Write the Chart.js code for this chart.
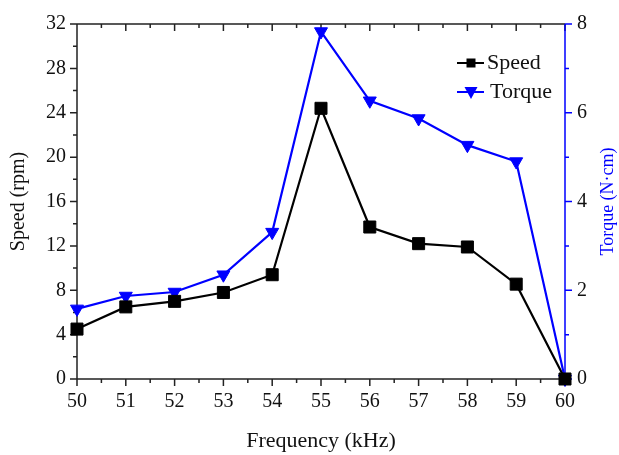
<!DOCTYPE html>
<html>
<head>
<meta charset="utf-8">
<script src="https://cdn.jsdelivr.net/npm/chart.js@4.4.1/dist/chart.umd.min.js"></script>
<style>
  body { margin: 0; background: #fff; }
  canvas { display: block; }
</style>
</head>
<body>
<canvas id="chart" width="619" height="455"></canvas>
<script>
// Values
const frequency = [50, 51, 52, 53, 54, 55, 56, 57, 58, 59, 60];
const speed = [4.5, 6.5, 7.0, 7.8, 9.4, 24.4, 13.7, 12.2, 11.9, 8.55, 0];
const torque = [1.58, 1.87, 1.96, 2.35, 3.31, 7.83, 6.27, 5.87, 5.27, 4.9, 0];
const seriesNames = ['Speed', 'Torque'];
const axisTitles = ['Frequency (kHz)', 'Speed (rpm)', 'Torque (N\u00b7cm)'];

const FONT = "'Liberation Serif', 'Times New Roman', serif";
const BLUE = '#0000ff';

// axis lines + major/minor tick marks, drawn from the scales
const axesPlugin = {
  id: 'axes',
  beforeDatasetsDraw(chart) {
    const { ctx, chartArea: a, scales } = chart;
    const x = scales.x, y = scales.y, y1 = scales.y1;
    ctx.save();
    ctx.lineWidth = 1.5;
    ctx.strokeStyle = '#222';
    ctx.beginPath();
    ctx.moveTo(a.left, a.top); ctx.lineTo(a.left, a.bottom); ctx.lineTo(a.right, a.bottom);
    ctx.moveTo(a.left, a.top); ctx.lineTo(a.right, a.top);
    for (let v = x.min; v <= x.max + 1e-9; v += 0.5) {
      const px = x.getPixelForValue(v);
      const len = Number.isInteger(v) ? 7 : 4;
      ctx.moveTo(px, a.bottom); ctx.lineTo(px, a.bottom + len);
      ctx.moveTo(px, a.top); ctx.lineTo(px, a.top + len);
    }
    for (let v = y.min; v <= y.max + 1e-9; v += 2) {
      const py = y.getPixelForValue(v);
      const len = v % 4 === 0 ? 7 : 4;
      ctx.moveTo(a.left, py); ctx.lineTo(a.left - len, py);
    }
    ctx.stroke();

    ctx.strokeStyle = BLUE;
    ctx.beginPath();
    ctx.moveTo(a.right, a.top); ctx.lineTo(a.right, a.bottom);
    for (let v = y1.min; v <= y1.max + 1e-9; v += 1) {
      const py = y1.getPixelForValue(v);
      const len = v % 2 === 0 ? 7 : 4;
      ctx.moveTo(a.right, py); ctx.lineTo(a.right + len, py);
    }
    ctx.stroke();
    ctx.restore();
  }
};

// legend in the upper right corner + right axis title (reads bottom to top)
const legendPlugin = {
  id: 'cornerLegend',
  afterDraw(chart) {
    const { ctx, chartArea: a } = chart;
    const x0 = a.right - 108;
    ctx.save();
    ctx.font = '22px ' + FONT;
    ctx.textBaseline = 'middle';
    chart.data.datasets.forEach((ds, i) => {
      const yy = a.top + 39 + i * 29;
      ctx.strokeStyle = ds.borderColor;
      ctx.lineWidth = 2;
      ctx.beginPath();
      ctx.moveTo(x0, yy); ctx.lineTo(x0 + 27, yy);
      ctx.stroke();
      ctx.fillStyle = ds.backgroundColor;
      ctx.beginPath();
      if (ds.pointStyle === 'rect') {
        ctx.rect(x0 + 9.5, yy - 4.5, 9, 9);
      } else {
        ctx.moveTo(x0 + 7.5, yy - 5);
        ctx.lineTo(x0 + 20.5, yy - 5);
        ctx.lineTo(x0 + 14, yy + 7);
        ctx.closePath();
      }
      ctx.fill();
      ctx.fillStyle = '#111';
      ctx.fillText(ds.label, x0 + 30 + i * 3, yy);
    });

    ctx.translate(608, (a.top + a.bottom) / 2);
    ctx.rotate(-Math.PI / 2);
    ctx.font = '18px ' + FONT;
    ctx.textAlign = 'center';
    ctx.fillStyle = BLUE;
    ctx.fillText(axisTitles[2], 0, 0);
    ctx.restore();
  }
};

new Chart(document.getElementById('chart'), {
  type: 'line',
  data: {
    datasets: [
      {
        label: seriesNames[0],
        data: frequency.map((f, i) => ({ x: f, y: speed[i] })),
        yAxisID: 'y',
        borderColor: '#000',
        backgroundColor: '#000',
        borderWidth: 2.2,
        pointStyle: 'rect',
        pointRadius: 8.5,
        pointBorderWidth: 1,
        tension: 0,
        clip: false
      },
      {
        label: seriesNames[1],
        data: frequency.map((f, i) => ({ x: f, y: torque[i] })),
        yAxisID: 'y1',
        borderColor: BLUE,
        backgroundColor: BLUE,
        borderWidth: 2.2,
        pointStyle: 'triangle',
        rotation: 180,
        pointRadius: 7.5,
        pointBorderWidth: 1,
        tension: 0,
        clip: false
      }
    ]
  },
  options: {
    responsive: false,
    animation: false,
    layout: { padding: { top: 19 } },
    plugins: { legend: { display: false }, tooltip: { enabled: false } },
    scales: {
      x: {
        type: 'linear',
        min: 50, max: 60,
        grid: { display: false, drawTicks: false },
        border: { display: false },
        ticks: { stepSize: 1, padding: 11, color: '#111', font: { family: FONT, size: 20 } },
        title: { display: true, text: axisTitles[0], color: '#111', padding: { top: 0, bottom: 2 },
                 font: { family: FONT, size: 22, lineHeight: 1.1 } },
        afterFit(s) { s.height = 76; }
      },
      y: {
        position: 'left',
        min: 0, max: 32,
        grid: { display: false, drawTicks: false },
        border: { display: false },
        ticks: { stepSize: 4, padding: 11, color: '#111', font: { family: FONT, size: 20 } },
        title: { display: true, text: axisTitles[1], color: '#111', padding: { top: 8, bottom: 0 },
                 font: { family: FONT, size: 20, lineHeight: 1.1 } },
        afterFit(s) { s.width = 77; }
      },
      y1: {
        position: 'right',
        min: 0, max: 8,
        grid: { display: false, drawTicks: false },
        border: { display: false },
        ticks: { stepSize: 2, padding: 12, color: '#111', font: { family: FONT, size: 20 } },
        afterFit(s) { s.width = 54; }
      }
    }
  },
  plugins: [axesPlugin, legendPlugin]
});
</script>
</body>
</html>
